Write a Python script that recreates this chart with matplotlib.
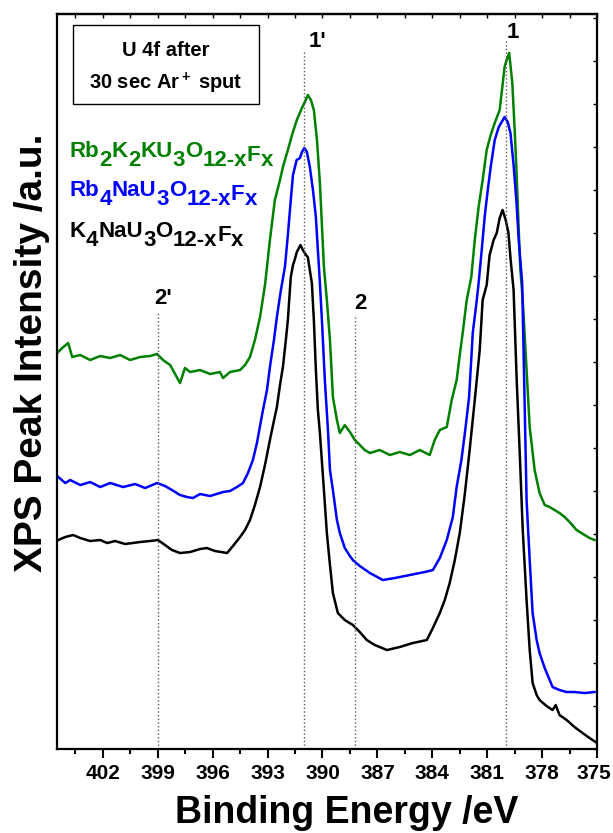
import numpy as np
import matplotlib
matplotlib.use('Agg')
import matplotlib.pyplot as plt
from matplotlib.ticker import MultipleLocator, NullFormatter
from matplotlib.patches import Rectangle
from matplotlib.transforms import Affine2D

# Some plot settings
plt.rcParams['font.family'] = 'Liberation Sans'
plt.rcParams['font.weight'] = 'bold'
plt.rcParams['mathtext.fontset'] = 'custom'
plt.rcParams['mathtext.rm'] = 'Liberation Sans:bold'
plt.rcParams['mathtext.bf'] = 'Liberation Sans:bold'
plt.rcParams['mathtext.it'] = 'Liberation Sans:bold'
plt.rcParams['mathtext.default'] = 'bf'

# Rb2K2KU3O12-xFx (green)
e_green = [404.49, 404.22, 403.89, 403.67, 403.23, 402.69, 402.14, 401.60, 401.05, 400.51,
           399.96, 399.42, 399.03, 398.71, 398.32, 397.78, 397.51, 397.23, 396.69, 396.14,
           395.60, 395.43, 395.05, 394.50, 394.23, 393.96, 393.69, 393.41, 393.14, 393.03,
           392.87, 392.60, 392.32, 392.16, 391.89, 391.63, 391.40, 391.10, 390.96, 390.80,
           390.63, 390.47, 390.30, 390.14, 390.03, 389.92, 389.76, 389.59, 389.43, 389.21,
           389.05, 388.78, 388.50, 388.23, 387.96, 387.69, 387.41, 386.87, 386.32, 385.78,
           385.23, 384.68, 384.14, 383.87, 383.59, 383.21, 382.94, 382.67, 382.50, 382.34,
           382.12, 381.87, 381.68, 381.47, 381.25, 381.03, 380.81, 380.59, 380.32, 380.05,
           379.94, 379.80, 379.63, 379.50, 379.41, 379.20, 379.06, 378.85, 378.68, 378.41,
           378.14, 377.86, 377.59, 377.32, 377.05, 376.77, 376.50, 376.12, 375.68, 375.41,
           375.14]
i_green = [396, 401, 406, 392, 394, 389, 393, 391, 394, 389,
           392, 393, 395, 389, 384, 366, 381, 377, 379, 375,
           377, 371, 377, 379, 384, 392, 409, 432, 464, 482,
           509, 549, 569, 582, 599, 616, 629, 642, 647, 654,
           649, 639, 609, 566, 524, 482, 449, 409, 352, 329,
           316, 324, 317, 309, 304, 299, 296, 299, 294, 297,
           294, 299, 294, 309, 319, 322, 349, 369, 394, 416,
           449, 472, 509, 542, 569, 599, 614, 626, 639, 682,
           689, 696, 666, 619, 582, 482, 449, 379, 322, 279,
           256, 244, 242, 239, 236, 232, 227, 219, 214, 211,
           209]

# Rb4NaU3O12-xFx (blue)
e_blue = [404.43, 404.05, 403.78, 403.23, 402.69, 402.14, 401.60, 400.89, 400.23, 399.69,
          399.03, 398.60, 398.22, 397.78, 397.40, 397.07, 396.69, 396.14, 395.43, 395.05,
          394.67, 394.34, 394.07, 393.80, 393.58, 393.25, 393.03, 392.87, 392.65, 392.49,
          392.27, 392.05, 391.89, 391.73, 391.61, 391.41, 391.23, 391.12, 390.99, 390.85,
          390.69, 390.52, 390.36, 390.25, 390.14, 390.03, 389.87, 389.70, 389.59, 389.43,
          389.21, 389.05, 388.78, 388.50, 388.34, 387.96, 387.41, 386.70, 386.05, 385.50,
          384.96, 384.41, 383.97, 383.59, 383.21, 382.88, 382.67, 382.41, 382.20, 381.99,
          381.79, 381.57, 381.47, 381.30, 381.14, 380.97, 380.81, 380.59, 380.37, 380.21,
          380.05, 379.88, 379.73, 379.56, 379.41, 379.28, 379.09, 378.96, 378.85, 378.68,
          378.52, 378.30, 378.14, 377.86, 377.43, 377.05, 376.66, 376.23, 375.68, 375.14]
i_blue = [272, 266, 269, 264, 267, 262, 266, 262, 265, 261,
          266, 263, 259, 254, 252, 251, 255, 253, 257, 258,
          262, 266, 276, 289, 306, 339, 359, 382, 409, 432,
          459, 482, 514, 549, 574, 589, 591, 597, 601, 597,
          582, 559, 532, 499, 466, 429, 369, 319, 279, 259,
          229, 216, 201, 193, 189, 183, 176, 169, 171, 173,
          175, 177, 179, 191, 209, 232, 262, 289, 319, 352,
          416, 449, 466, 499, 532, 559, 582, 609, 622, 627,
          632, 627, 616, 584, 549, 509, 466, 349, 249, 189,
          136, 109, 96, 81, 62, 59, 57, 57, 56, 57]

# K4NaU3O12-xFx (black)
e_black = [404.43, 404.05, 403.62, 403.23, 402.69, 402.14, 401.76, 401.33, 400.78, 399.96,
           399.42, 398.98, 398.60, 398.22, 397.78, 397.23, 396.69, 396.31, 395.87, 395.21,
           394.89, 394.50, 394.23, 393.96, 393.69, 393.41, 393.14, 392.87, 392.70, 392.49,
           392.32, 392.16, 392.00, 391.89, 391.73, 391.61, 391.52, 391.40, 391.20, 391.07,
           390.90, 390.80, 390.69, 390.58, 390.47, 390.36, 390.25, 390.14, 389.92, 389.76,
           389.59, 389.43, 389.16, 388.78, 388.34, 387.96, 387.58, 387.14, 386.48, 385.78,
           385.07, 384.30, 383.97, 383.59, 383.32, 383.05, 382.77, 382.50, 382.23, 381.96,
           381.68, 381.41, 381.25, 381.03, 380.87, 380.65, 380.48, 380.32, 380.16, 379.99,
           379.84, 379.72, 379.56, 379.39, 379.23, 379.06, 378.85, 378.68, 378.52, 378.30,
           378.14, 377.76, 377.43, 377.26, 377.05, 376.66, 376.23, 375.79, 375.41, 375.08]
i_black = [209, 212, 214, 211, 208, 209, 206, 208, 205, 207,
           208, 209, 204, 199, 196, 197, 200, 201, 198, 196,
           203, 212, 219, 229, 244, 262, 284, 309, 324, 342,
           364, 382, 409, 429, 472, 484, 489, 497, 504, 499,
           494, 492, 479, 466, 429, 379, 339, 316, 259, 216,
           184, 156, 136, 129, 124, 117, 109, 104, 99, 102,
           106, 109, 121, 136, 149, 166, 189, 216, 254, 299,
           349, 399, 449, 464, 494, 509, 516, 531, 539, 529,
           516, 489, 459, 369, 299, 219, 149, 99, 66, 54,
           49, 43, 39, 44, 34, 29, 22, 16, 11, 7]

x_ticks = [402, 399, 396, 393, 390, 387, 384, 381, 378, 375]

peak_energy = [399.0, 391.0, 388.2, 380.0]
peak_label = ["2'", "1'", "2", "1"]

# compound names: (piece, kind) with n = normal, s = subscript, f = lowered F
name_green = [("Rb", "n"), ("2", "s"), ("K", "n"), ("2", "s"), ("KU", "n"), ("3", "s"),
              ("O", "n"), ("12-x", "s"), ("F", "f"), ("x", "s")]
name_blue = [("Rb", "n"), ("4", "s"), ("NaU", "n"), ("3", "s"),
             ("O", "n"), ("12-x", "s"), ("F", "f"), ("x", "s")]
name_black = [("K", "n"), ("4", "s"), ("NaU", "n"), ("3", "s"),
              ("O", "n"), ("12-x", "s"), ("F", "f"), ("x", "s")]

series = [
    (e_green, i_green, '#008000', name_green),
    (e_blue, i_blue, '#0000FF', name_blue),
    (e_black, i_black, 'black', name_black),
]

fig = plt.figure(figsize=(6.13, 8.33), dpi=100)
ax = fig.add_axes([0.093, 0.1008, 0.881, 0.8824])
renderer = fig.canvas.get_renderer()

for e, inten, col, name in series:
    ax.plot(e, inten, color=col, lw=1.8)

# dotted guide lines and labels
line_top = [437, 697, 434, 709]
label_pos = [(398.71, 451), (390.25, 707), (387.9, 446), (379.61, 716)]
for pe, lt, lab, (lx, ly) in zip(peak_energy, line_top, peak_label, label_pos):
    ax.plot([pe, pe], [0, lt], color='0.35', ls=':', lw=1.0)
    ax.text(lx, ly, lab, fontsize=16, fontweight='bold', ha='center', va='center')


def draw_name(x, y, parts, color):
    # offsets in points (figure dpi is 100)
    drop = {"n": 0.0, "s": 6.5, "f": 3.0}
    dx = 0.0
    for txt, kind in parts:
        t = ax.annotate(txt, xy=(x, y), xycoords='axes fraction',
                        xytext=(dx, -drop[kind]), textcoords='offset points',
                        color=color, fontsize=16, fontweight='bold',
                        va='baseline', ha='left')
        dx += t.get_window_extent(renderer).width * 72.0 / fig.dpi


name_y = [0.805, 0.752, 0.697]
for (e, inten, col, name), ny in zip(series, name_y):
    draw_name(0.024, ny, name, col)

# box with condition
ax.add_patch(Rectangle((0.0296, 0.878), 0.344, 0.1075, transform=ax.transAxes,
                       fill=False, edgecolor='black', lw=1.0))
ax.text(0.202, 0.951, 'U 4f after', fontsize=14.5, fontweight='bold',
        transform=ax.transAxes, ha='center', va='center')
ax.text(0.202, 0.906, r'30 sec Ar$^+$ sput', fontsize=14.5, fontweight='bold',
        transform=ax.transAxes, ha='center', va='center')

ax.set_xlim(404.5, 375)
ax.set_ylim(0, 735)

ax.set_xticks(x_ticks)
ax.set_xticklabels([str(v) for v in x_ticks], fontweight='bold')
ax.xaxis.set_minor_locator(MultipleLocator(1.5))
ax.tick_params(axis='x', which='major', direction='out', length=6.5, width=1.5,
               labelsize=15, pad=4)
ax.tick_params(axis='x', which='minor', direction='out', length=3.5, width=1.5)
# nudge the last label so it stays inside the figure
last = ax.xaxis.get_major_ticks()[-1].label1
last.set_transform(last.get_transform() + Affine2D().translate(-3, 0))

ax.yaxis.set_ticks_position('right')
ax.yaxis.set_major_locator(MultipleLocator(43))
ax.yaxis.set_major_formatter(NullFormatter())
ax.tick_params(axis='y', which='major', direction='in', length=3, width=1.0)

top = ax.secondary_xaxis('top')
top.xaxis.set_major_locator(MultipleLocator(1.5))
top.xaxis.set_major_formatter(NullFormatter())
top.tick_params(direction='in', length=3, width=1.0)

for sp in ax.spines.values():
    sp.set_linewidth(1.6)
top.spines['top'].set_linewidth(1.6)

ax.set_xlabel('Binding Energy /eV', fontsize=27, fontweight='bold', va='baseline')
ax.xaxis.set_label_coords(0.536, -0.1007)
ax.set_ylabel('XPS Peak Intensity /a.u.', fontsize=28, fontweight='bold')
ax.yaxis.set_label_position('left')
ax.yaxis.set_label_coords(-0.013, 0.539)

fig.savefig('out.png', dpi=100)
